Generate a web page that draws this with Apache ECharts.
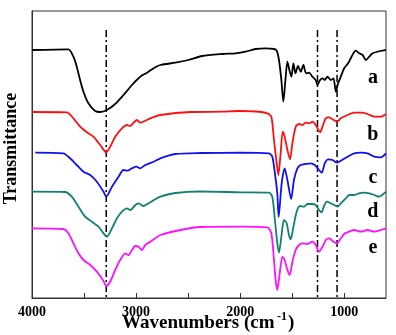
<!DOCTYPE html>
<html>
<head>
<meta charset="utf-8">
<script src="https://cdn.jsdelivr.net/npm/echarts@6/dist/echarts.min.js"></script>
<style>html,body{margin:0;padding:0;background:#fff}#c{width:396px;height:335px}</style>
</head>
<body>
<div id="c"></div>
<script>
// Wavenumber (cm-1) / transmittance (arbitrary, offset) per sample
const waveA = [4000,3650,3602,3570,3538,3506,3458,3393,3345,3281,3201,3121,3040,2960,2895,2832,2767,2623,2498,2366,2173,2045,1949,1853,1756,1676,1650,1628,1605,1586,1566,1547,1528,1509,1489,1470,1445,1419,1393,1368,1339,1307,1275,1258,1233,1210,1188,1162,1130,1104,1082,1060,1034,1002,964,931,890,858,825,793,761,729,681,601];
const transA = [250,250.7,243.3,233.3,220,208.3,196.7,189,188,190,196,205,215,223.3,227.3,231.7,235,237.3,240,244,246,246.7,248.3,251,251.7,251,249.3,240,220,198.3,220,238.3,230,223.3,236.7,226.7,234,228.3,235,226.7,227.3,223.3,220,215,220,221.7,220,223.3,220,221.7,208.3,216.7,223.3,231.7,236.7,243.3,249.3,246.7,245,240,243.3,246.7,248.3,250];

const waveB = [4000,3666,3602,3538,3473,3410,3345,3287,3249,3201,3136,3088,3056,3024,2992,2960,2912,2864,2767,2478,2173,2013,1853,1740,1701,1676,1650,1634,1612,1592,1573,1547,1522,1499,1467,1435,1403,1371,1339,1307,1275,1253,1233,1210,1178,1147,1114,1072,1034,969,906,841,777,713,649,601];
const transB = [188,187.7,181.7,173.3,167.7,163.3,155,147.7,153.3,163.3,171.7,175,174,177.3,180,177.3,179.3,181.7,185,188,188.3,189,188.5,186.7,183.3,160,136.7,125,146.7,168.3,163.3,150,140.7,156.7,173.3,176,175,177.3,176.7,178.3,175,170.7,167.7,173.3,181.7,182.7,180.7,178.3,181.7,185,187.3,187.3,186,183.3,183.3,186];

const waveC = [3968,3699,3634,3570,3506,3441,3377,3313,3287,3232,3169,3121,3082,3040,2998,2960,2912,2832,2767,2623,2382,1997,1724,1692,1667,1644,1631,1602,1573,1547,1511,1484,1451,1419,1371,1323,1284,1243,1217,1188,1156,1114,1072,1034,969,906,841,777,713,649,601];
const transC = [147.3,146.7,141.7,135,128.3,125,118.3,108.3,103.3,113.3,123.3,130,129.3,131.7,133.3,131.7,135,138.3,141.7,146,147,147.3,146.7,143.3,126.7,106.7,83,116.7,131.7,120,101,120,131.7,135,136,136.7,135,130,127.3,136.7,140.7,140,137.3,139.3,143.3,146.7,147.3,146.7,143.3,142.7,146.7];

const waveD = [4000,3682,3618,3554,3490,3425,3362,3313,3281,3232,3184,3136,3088,3056,3008,2976,2928,2880,2816,2767,2623,2382,1997,1724,1692,1667,1644,1628,1605,1580,1554,1532,1515,1489,1458,1426,1387,1355,1307,1275,1243,1220,1195,1169,1130,1098,1066,1034,986,954,906,858,810,761,713,665,617,600];
const transD = [108.3,108,103.3,93.3,83.3,78.3,73.3,66.7,63.3,71.7,81.7,88.3,91.7,90,95,96.7,94,96.7,100.7,103.3,107,108.5,107.7,107.3,103.3,80,56.7,47.3,63.3,80,76.7,65,60.7,73.3,88.3,94,93.3,96,96,95,90,87.7,94,98.3,96.7,95,93.3,96.7,101.7,105,105,106.7,107.3,106.7,105,103.3,106.7,108.3];

const waveE = [4000,3699,3650,3602,3554,3506,3441,3377,3319,3287,3249,3201,3153,3104,3073,3040,3008,2976,2944,2912,2864,2816,2767,2575,2382,1997,1740,1701,1676,1660,1644,1621,1595,1573,1547,1525,1499,1467,1435,1403,1355,1307,1275,1243,1210,1178,1147,1104,1072,1034,995,954,906,841,777,713,649,601];
const transE = [71.7,71,66.7,56.7,46.7,40,35,28.3,20,14,18.3,30,40,46.7,45,50,54,53.3,50,55,58.3,61.7,65,70,73,73.3,72.7,66.7,40,20,10,26.7,43.3,40,30,25,38.3,50,55,56.7,56,58.3,55,48.3,53.3,60,61.7,58.3,56.7,61.7,66.7,68.3,70,68.3,70,68.3,70,71.7];

const sampleNames = ['a','b','c','d','e'];
const sampleColors = ['#000000','#ff1010','#1010f0','#128070','#ff10ff'];
const labelWave = [726,726,726,726,726];
const labelTrans = [222,165,122.5,88.5,52.5];

const markerWaves = [3287,1258,1070];
const markerTop = 270;

const xTicks = [1000,1500,2000,2500,3000,3500];
const xLabels = [1000,2000,3000,4000];

const zip = (w,t) => w.map((v,i)=>[v,t[i]]);
const curves = [zip(waveA,transA),zip(waveB,transB),zip(waveC,transC),zip(waveD,transD),zip(waveE,transE)];

const serif = '"Liberation Serif","DejaVu Serif",serif';
const series = [];
curves.forEach((d,i)=>{
  series.push({type:'line',data:d,symbol:'none',smooth:0.25,
    lineStyle:{color:sampleColors[i],width:1.8},z:3,silent:true});
});
markerWaves.forEach(w=>{
  series.push({type:'line',data:[[w,markerTop],[w,2]],symbol:'none',
    lineStyle:{color:'#000',width:1.5,type:[7,3,2,3]},z:2,silent:true});
});

const chart = echarts.init(document.getElementById('c'),null,{renderer:'canvas'});
chart.setOption({
  animation:false,
  backgroundColor:'#fff',
  grid:{left:32,right:10,top:11,bottom:37,show:true,borderColor:'#333',borderWidth:1,containLabel:false,outerBoundsMode:'none'},
  xAxis:{type:'value',min:600,max:4000,inverse:true,
    axisLine:{show:true,lineStyle:{color:'#333',width:1}},
    axisTick:{show:true,inside:true,length:5,customValues:xTicks,lineStyle:{color:'#333'}},
    axisLabel:{customValues:xLabels,formatter:v=>String(v),fontFamily:serif,fontWeight:'bold',fontSize:14,color:'#000',margin:7},
    splitLine:{show:false}},
  yAxis:{type:'value',min:2,max:289,
    name:'Transmittance',nameLocation:'middle',nameGap:12,
    nameTextStyle:{fontFamily:serif,fontWeight:'bold',fontSize:18,color:'#000',padding:[0,0,0,12]},
    axisLine:{show:true,lineStyle:{color:'#333',width:1}},
    axisTick:{show:false},axisLabel:{show:false},splitLine:{show:false}},
  series:series
});
// axis title and sample letters placed through the axes' scales
const gr = sampleNames.map((n,i)=>{
  const p = chart.convertToPixel({gridIndex:0},[labelWave[i],labelTrans[i]]);
  return {type:'text',x:p[0],y:p[1],z:10,silent:true,
    style:{text:n,fill:'#000',font:'bold 20px '+serif,align:'center',verticalAlign:'middle'}};
});
gr.push({type:'group',x:122,y:314,silent:true,children:[
  {type:'text',x:0,y:0,style:{text:'Wavenumbers (cm',fill:'#000',font:'bold 19px '+serif,verticalAlign:'top'}},
  {type:'text',x:155,y:-3,style:{text:'-1',fill:'#000',font:'bold 12px '+serif,verticalAlign:'top'}},
  {type:'text',x:166,y:0,style:{text:')',fill:'#000',font:'bold 19px '+serif,verticalAlign:'top'}}
]});
chart.setOption({graphic:gr});
</script>
</body>
</html>
